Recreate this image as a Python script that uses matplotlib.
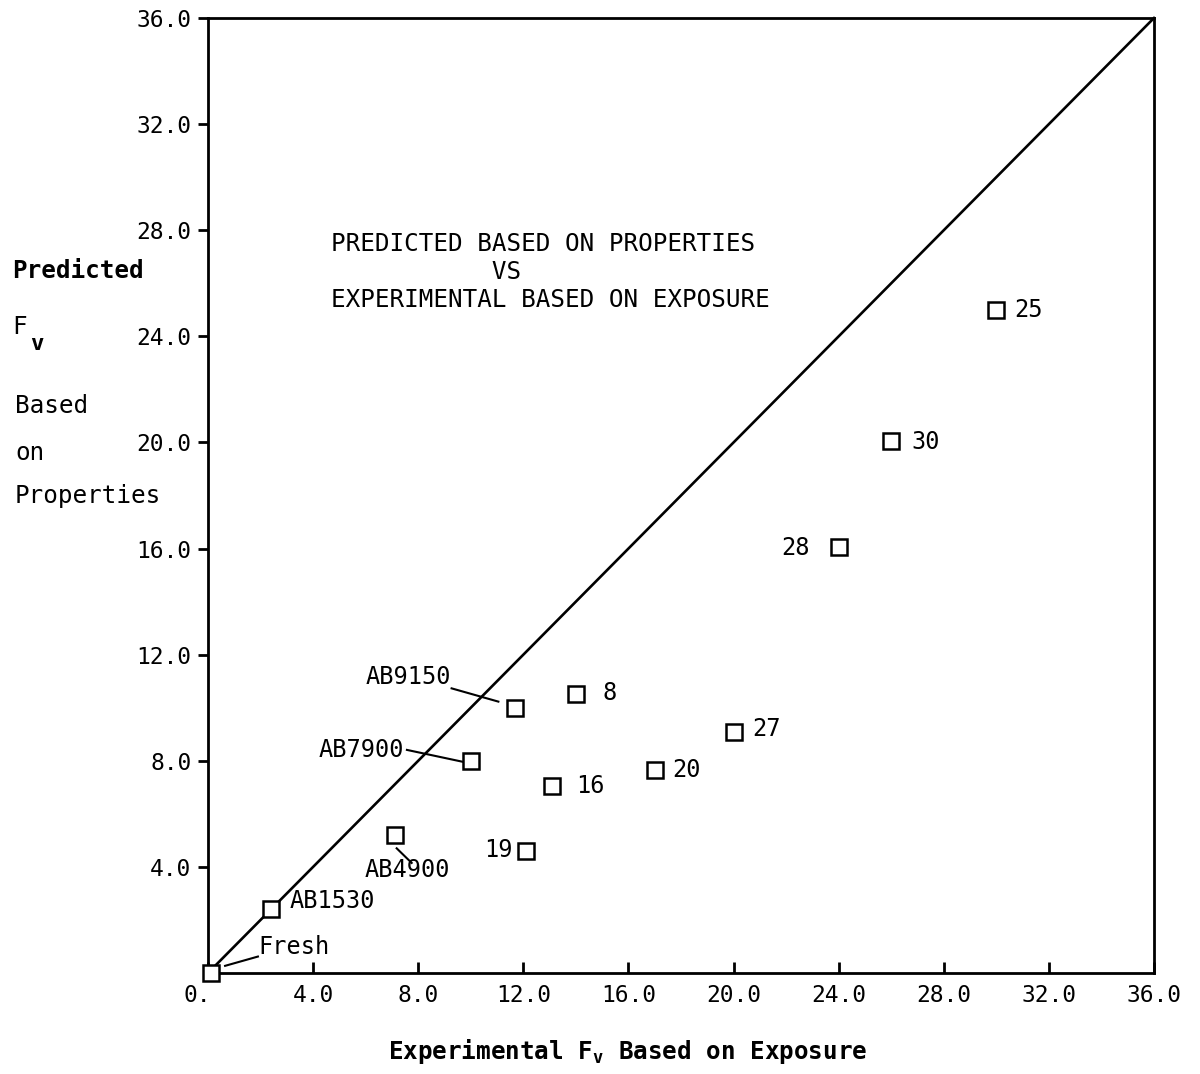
import matplotlib
matplotlib.use("Agg")
import matplotlib.pyplot as plt
import matplotlib.transforms as mtransforms

plt.rcParams['font.family'] = ['DejaVu Sans Mono']
plt.rcParams['mathtext.fontset'] = 'custom'
plt.rcParams['mathtext.rm'] = 'DejaVu Sans Mono'

# data (experimental Fv, predicted Fv)
labels = ["Fresh", "AB1530", "AB4900", "19", "AB7900", "AB9150", "8", "16",
          "20", "27", "28", "30", "25"]
exp_fv = [0.1, 2.4, 7.1, 12.1, 10.0, 11.7, 14.0, 13.1, 17.0, 20.0, 24.0, 26.0, 30.0]
pred_fv = [0.0, 2.4, 5.2, 4.6, 8.0, 10.0, 10.5, 7.05, 7.65, 9.1, 16.05, 20.05, 25.0]

xticks = [0, 4, 8, 12, 16, 20, 24, 28, 32, 36]
xticklabels = ["0.", "4.0", "8.0", "12.0", "16.0", "20.0", "24.0", "28.0", "32.0", "36.0"]
yticks = [4, 8, 12, 16, 20, 24, 28, 32, 36]
yticklabels = ["4.0", "8.0", "12.0", "16.0", "20.0", "24.0", "28.0", "32.0", "36.0"]

fig = plt.figure(figsize=(12, 10.74), dpi=100)
ax = fig.add_axes([208/1200, 1-973/1074, 946/1200, 955/1074])
ax.set_xlim(0, 36)
ax.set_ylim(0, 36)

# 1:1 line
ax.plot([0, 36], [0, 36], color='black', lw=1.9, zorder=2, clip_on=False)
ax.plot(exp_fv, pred_fv, linestyle='none', marker='s', markersize=11,
        markerfacecolor='white', markeredgecolor='black', markeredgewidth=1.8,
        zorder=3, clip_on=False)

for s in ax.spines.values():
    s.set_linewidth(2.0)

ax.set_xticks(xticks)
ax.set_xticklabels(xticklabels)
ax.set_yticks(yticks)
ax.set_yticklabels(yticklabels)
ax.tick_params(axis='x', direction='in', length=8, width=2, labelsize=16.5, pad=8)
ax.tick_params(axis='y', direction='out', length=7, width=2, labelsize=16.5, pad=5)
lab0 = ax.xaxis.get_major_ticks()[0].label1
lab0.set_horizontalalignment('right')
lab0.set_transform(lab0.get_transform() +
                   mtransforms.ScaledTranslation(0.03, 0, fig.dpi_scale_trans))

fs = 17
# point annotations (text positions in data units)
ax.text(1.9, 0.98, "Fresh", fontsize=fs, ha='left', va='center')
ax.plot([0.65, 1.9], [0.27, 0.62], color='black', lw=1.5)
ax.text(3.1, 2.7, "AB1530", fontsize=fs, ha='left', va='center')
ax.text(5.95, 3.9, "AB4900", fontsize=fs, ha='left', va='center')
ax.plot([7.18, 7.75], [4.7, 4.15], color='black', lw=1.5)
ax.text(10.5, 4.65, "19", fontsize=fs, ha='left', va='center')
ax.text(7.45, 8.4, "AB7900", fontsize=fs, ha='right', va='center')
ax.plot([7.57, 9.75], [8.41, 7.95], color='black', lw=1.5)
ax.text(9.25, 11.17, "AB9150", fontsize=fs, ha='right', va='center')
ax.plot([9.27, 11.05], [10.73, 10.23], color='black', lw=1.5)
ax.text(15.0, 10.55, "8", fontsize=fs, ha='left', va='center')
ax.text(14.0, 7.05, "16", fontsize=fs, ha='left', va='center')
ax.text(17.65, 7.65, "20", fontsize=fs, ha='left', va='center')
ax.text(20.7, 9.2, "27", fontsize=fs, ha='left', va='center')
ax.text(22.9, 16.02, "28", fontsize=fs, ha='right', va='center')
ax.text(26.75, 20.0, "30", fontsize=fs, ha='left', va='center')
ax.text(30.7, 25.0, "25", fontsize=fs, ha='left', va='center')

# title block inside axes
ax.text((331-208)/26.28, (973-272)/26.53,
        "PREDICTED BASED ON PROPERTIES\n           VS\nEXPERIMENTAL BASED ON EXPOSURE",
        fontsize=17.5, ha='left', va='center', linespacing=1.22)

# y label block
fig.text(12/1200, 1-271/1074, "Predicted", fontsize=17.5, fontweight='bold', ha='left', va='center')
fig.text(12/1200, 1-327/1074, "F", fontsize=17.5, ha='left', va='center')
fig.text(30/1200, 1-344/1074, "v", fontsize=16, fontweight='bold', ha='left', va='center')
fig.text(15/1200, 1-406/1074, "Based", fontsize=17.5, ha='left', va='center')
fig.text(15/1200, 1-453/1074, "on", fontsize=17.5, ha='left', va='center')
fig.text(15/1200, 1-496/1074, "Properties", fontsize=17.5, ha='left', va='center')

# x label
fig.text(628/1200, 1-1052/1074, r"Experimental $\mathregular{F_v}$ Based on Exposure",
         fontsize=17.5, fontweight='bold', ha='center', va='center')

fig.savefig("out.png", dpi=100)
